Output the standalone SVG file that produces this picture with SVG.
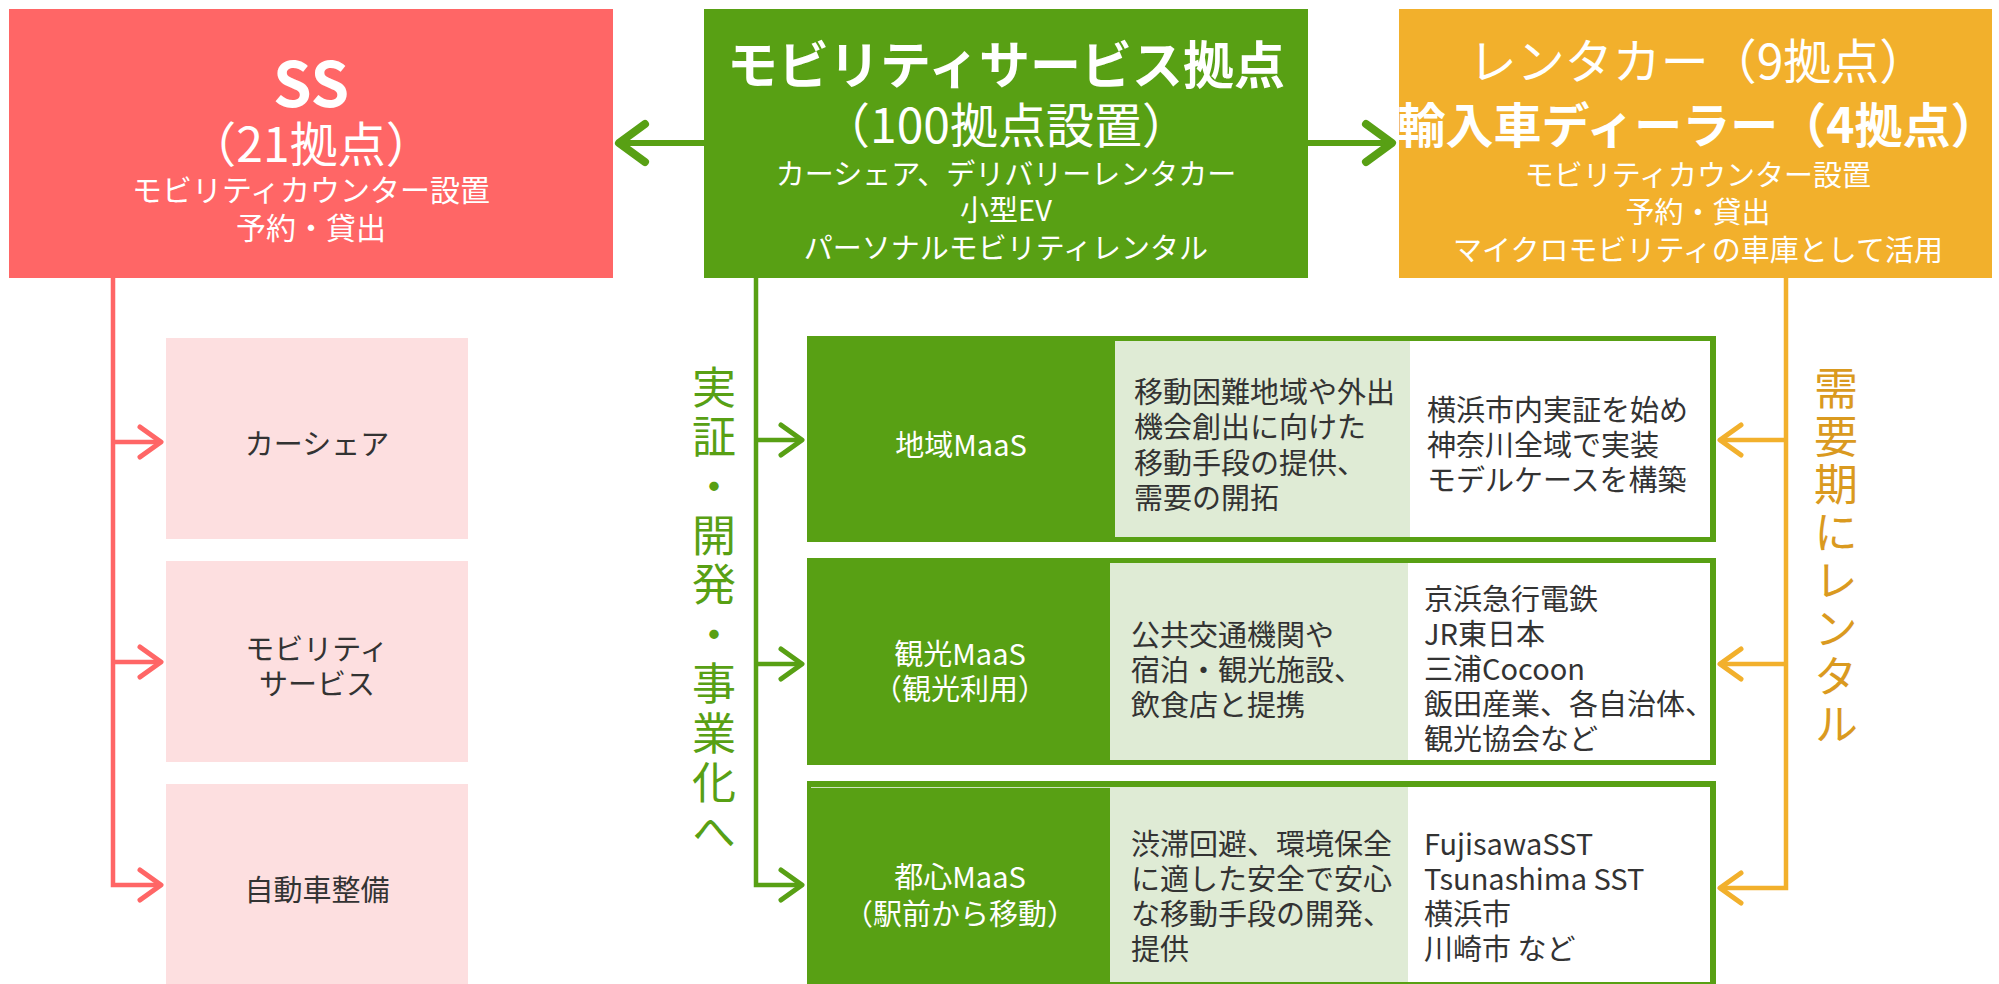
<svg xmlns="http://www.w3.org/2000/svg" width="1999" height="984" viewBox="0 0 1999 984">
<defs>
<style>
text{font-family:"Noto Sans CJK JP","Noto Sans",sans-serif;}
.w{fill:#ffffff;}
.d{fill:#333333;font-size:29px;}
.wm{fill:#ffffff;font-size:29px;}
.c{text-anchor:middle;dominant-baseline:central;}
.l{dominant-baseline:central;}
.vt{font-size:44px;writing-mode:vertical-rl;text-anchor:start;}
.red{fill:none;stroke:#FF6666;stroke-width:4.5;}
.grn{fill:none;stroke:#58A014;stroke-width:4.5;}
.org{fill:none;stroke:#F2B02C;stroke-width:4.5;}
.gbig{fill:none;stroke:#58A014;stroke-width:6;}
</style>
<marker id="mRed" markerUnits="userSpaceOnUse" markerWidth="32" markerHeight="40" refX="24" refY="18" orient="auto" overflow="visible">
<path d="M3,3 L24,18 L3,33" fill="none" stroke="#FF6666" stroke-width="5" stroke-linecap="round" stroke-linejoin="round"/>
</marker>
<marker id="mGrn" markerUnits="userSpaceOnUse" markerWidth="32" markerHeight="40" refX="24" refY="18" orient="auto" overflow="visible">
<path d="M3,3 L24,18 L3,33" fill="none" stroke="#58A014" stroke-width="5" stroke-linecap="round" stroke-linejoin="round"/>
</marker>
<marker id="mOrg" markerUnits="userSpaceOnUse" markerWidth="32" markerHeight="40" refX="24" refY="18" orient="auto" overflow="visible">
<path d="M3,3 L24,18 L3,33" fill="none" stroke="#F2B02C" stroke-width="5" stroke-linecap="round" stroke-linejoin="round"/>
</marker>
<marker id="mBig" markerUnits="userSpaceOnUse" markerWidth="40" markerHeight="50" refX="30" refY="24" orient="auto" overflow="visible">
<path d="M4,5 L30,24 L4,43" fill="none" stroke="#58A014" stroke-width="8" stroke-linecap="round" stroke-linejoin="round"/>
</marker>
</defs>
<rect width="1999" height="984" fill="#ffffff"/>

<g id="connectors">
<path class="gbig" d="M704,143 H619" marker-end="url(#mBig)"/>
<path class="gbig" d="M1307,143 H1392" marker-end="url(#mBig)"/>
<path class="red" d="M113,278 V885 H161" marker-end="url(#mRed)"/>
<path class="red" d="M113,442 H161" marker-end="url(#mRed)"/>
<path class="red" d="M113,662 H161" marker-end="url(#mRed)"/>
<path class="grn" d="M756,278 V885 H802" marker-end="url(#mGrn)"/>
<path class="grn" d="M756,440 H802" marker-end="url(#mGrn)"/>
<path class="grn" d="M756,664 H802" marker-end="url(#mGrn)"/>
<path class="org" d="M1786,278 V888 H1720" marker-end="url(#mOrg)"/>
<path class="org" d="M1786,440 H1720" marker-end="url(#mOrg)"/>
<path class="org" d="M1786,664 H1720" marker-end="url(#mOrg)"/>
</g>

<g id="node-ss">
<rect x="9" y="9" width="604" height="269" fill="#FF6666"/>
<text class="w c" x="311" y="80" font-size="62" font-weight="700">SS</text>
<text class="w c" x="311" y="141" font-size="48">（21拠点）</text>
<text class="w c" x="311" y="188" font-size="30">モビリティカウンター設置</text>
<text class="w c" x="311" y="226" font-size="30">予約・貸出</text>
</g>

<g id="node-mobility">
<rect x="704" y="9" width="604" height="269" fill="#58A014"/>
<text class="w c" x="1006" y="62" font-size="51" font-weight="700">モビリティサービス拠点</text>
<text class="w c" x="1006" y="122" font-size="48">（100拠点設置）</text>
<text class="w c" x="1006" y="172" font-size="29">カーシェア、デリバリーレンタカー</text>
<text class="w c" x="1006" y="208" font-size="29">小型EV</text>
<text class="w c" x="1006" y="246" font-size="29">パーソナルモビリティレンタル</text>
</g>

<g id="node-rental">
<rect x="1399" y="9" width="593" height="269" fill="#F2B02C"/>
<text class="w c" x="1698" y="58" font-size="48">レンタカー（9拠点）</text>
<text class="w c" x="1698" y="122" font-size="48" font-weight="700">輸入車ディーラー（4拠点）</text>
<text class="w c" x="1698" y="173" font-size="29">モビリティカウンター設置</text>
<text class="w c" x="1698" y="210" font-size="29">予約・貸出</text>
<text class="w c" x="1698" y="248" font-size="29">マイクロモビリティの車庫として活用</text>
</g>

<g id="node-carshare">
<rect x="166" y="338" width="302" height="201" fill="#FDDFE0"/>
<text class="d c" x="317" y="442">カーシェア</text>
</g>
<g id="node-mobservice">
<rect x="166" y="561" width="302" height="201" fill="#FDDFE0"/>
<text class="d c" x="317" y="647">モビリティ</text>
<text class="d c" x="317" y="682">サービス</text>
</g>
<g id="node-maint">
<rect x="166" y="784" width="302" height="200" fill="#FDDFE0"/>
<text class="d c" x="317" y="888">自動車整備</text>
</g>

<g id="label-left">
<text class="vt" x="714" y="365" fill="#58A014" letter-spacing="5.4">実証・開発・事業化へ</text>
</g>

<g id="label-right">
<text class="vt" x="1836" y="366" fill="#DA9A1F" letter-spacing="4">需要期にレンタル</text>
</g>

<g id="node-regional">
<rect x="807" y="336" width="909" height="206" fill="#58A014"/>
<rect x="1115" y="341" width="295" height="196" fill="#DFEBD5"/>
<rect x="1410" y="341" width="300" height="196" fill="#ffffff"/>
<text class="wm c" x="961" y="443">地域MaaS</text>
<text class="d l" x="1134"><tspan x="1134" y="390">移動困難地域や外出</tspan><tspan x="1134" y="425">機会創出に向けた</tspan><tspan x="1134" y="461">移動手段の提供、</tspan><tspan x="1134" y="496">需要の開拓</tspan></text>
<text class="d l" x="1427"><tspan x="1427" y="408">横浜市内実証を始め</tspan><tspan x="1427" y="443">神奈川全域で実装</tspan><tspan x="1427" y="478">モデルケースを構築</tspan></text>
</g>

<g id="node-tourism">
<rect x="807" y="558" width="909" height="207" fill="#58A014"/>
<rect x="1110" y="563" width="298" height="197" fill="#DFEBD5"/>
<rect x="1408" y="563" width="302" height="197" fill="#ffffff"/>
<text class="wm c" x="960" y="652">観光MaaS</text>
<text class="wm c" x="960" y="687">（観光利用）</text>
<text class="d l" x="1131"><tspan x="1131" y="633">公共交通機関や</tspan><tspan x="1131" y="668">宿泊・観光施設、</tspan><tspan x="1131" y="703">飲食店と提携</tspan></text>
<text class="d l" x="1424"><tspan x="1424" y="597">京浜急行電鉄</tspan><tspan x="1424" y="632">JR東日本</tspan><tspan x="1424" y="667">三浦Cocoon</tspan><tspan x="1424" y="702">飯田産業、各自治体、</tspan><tspan x="1424" y="737">観光協会など</tspan></text>
</g>

<g id="node-urban">
<rect x="807" y="781" width="909" height="203" fill="#58A014"/>
<line x1="811" y1="787.5" x2="1110" y2="787.5" stroke="#cfe3bf" stroke-width="1"/>
<rect x="1110" y="787" width="298" height="195" fill="#DFEBD5"/>
<rect x="1408" y="787" width="302" height="195" fill="#ffffff"/>
<text class="wm c" x="960" y="875">都心MaaS</text>
<text class="wm c" x="960" y="912">（駅前から移動）</text>
<text class="d l" x="1131"><tspan x="1131" y="842">渋滞回避、環境保全</tspan><tspan x="1131" y="877">に適した安全で安心</tspan><tspan x="1131" y="912">な移動手段の開発、</tspan><tspan x="1131" y="947">提供</tspan></text>
<text class="d l" x="1424"><tspan x="1424" y="842">FujisawaSST</tspan><tspan x="1424" y="877">Tsunashima SST</tspan><tspan x="1424" y="912">横浜市</tspan><tspan x="1424" y="947">川崎市 など</tspan></text>
</g>
</svg>
